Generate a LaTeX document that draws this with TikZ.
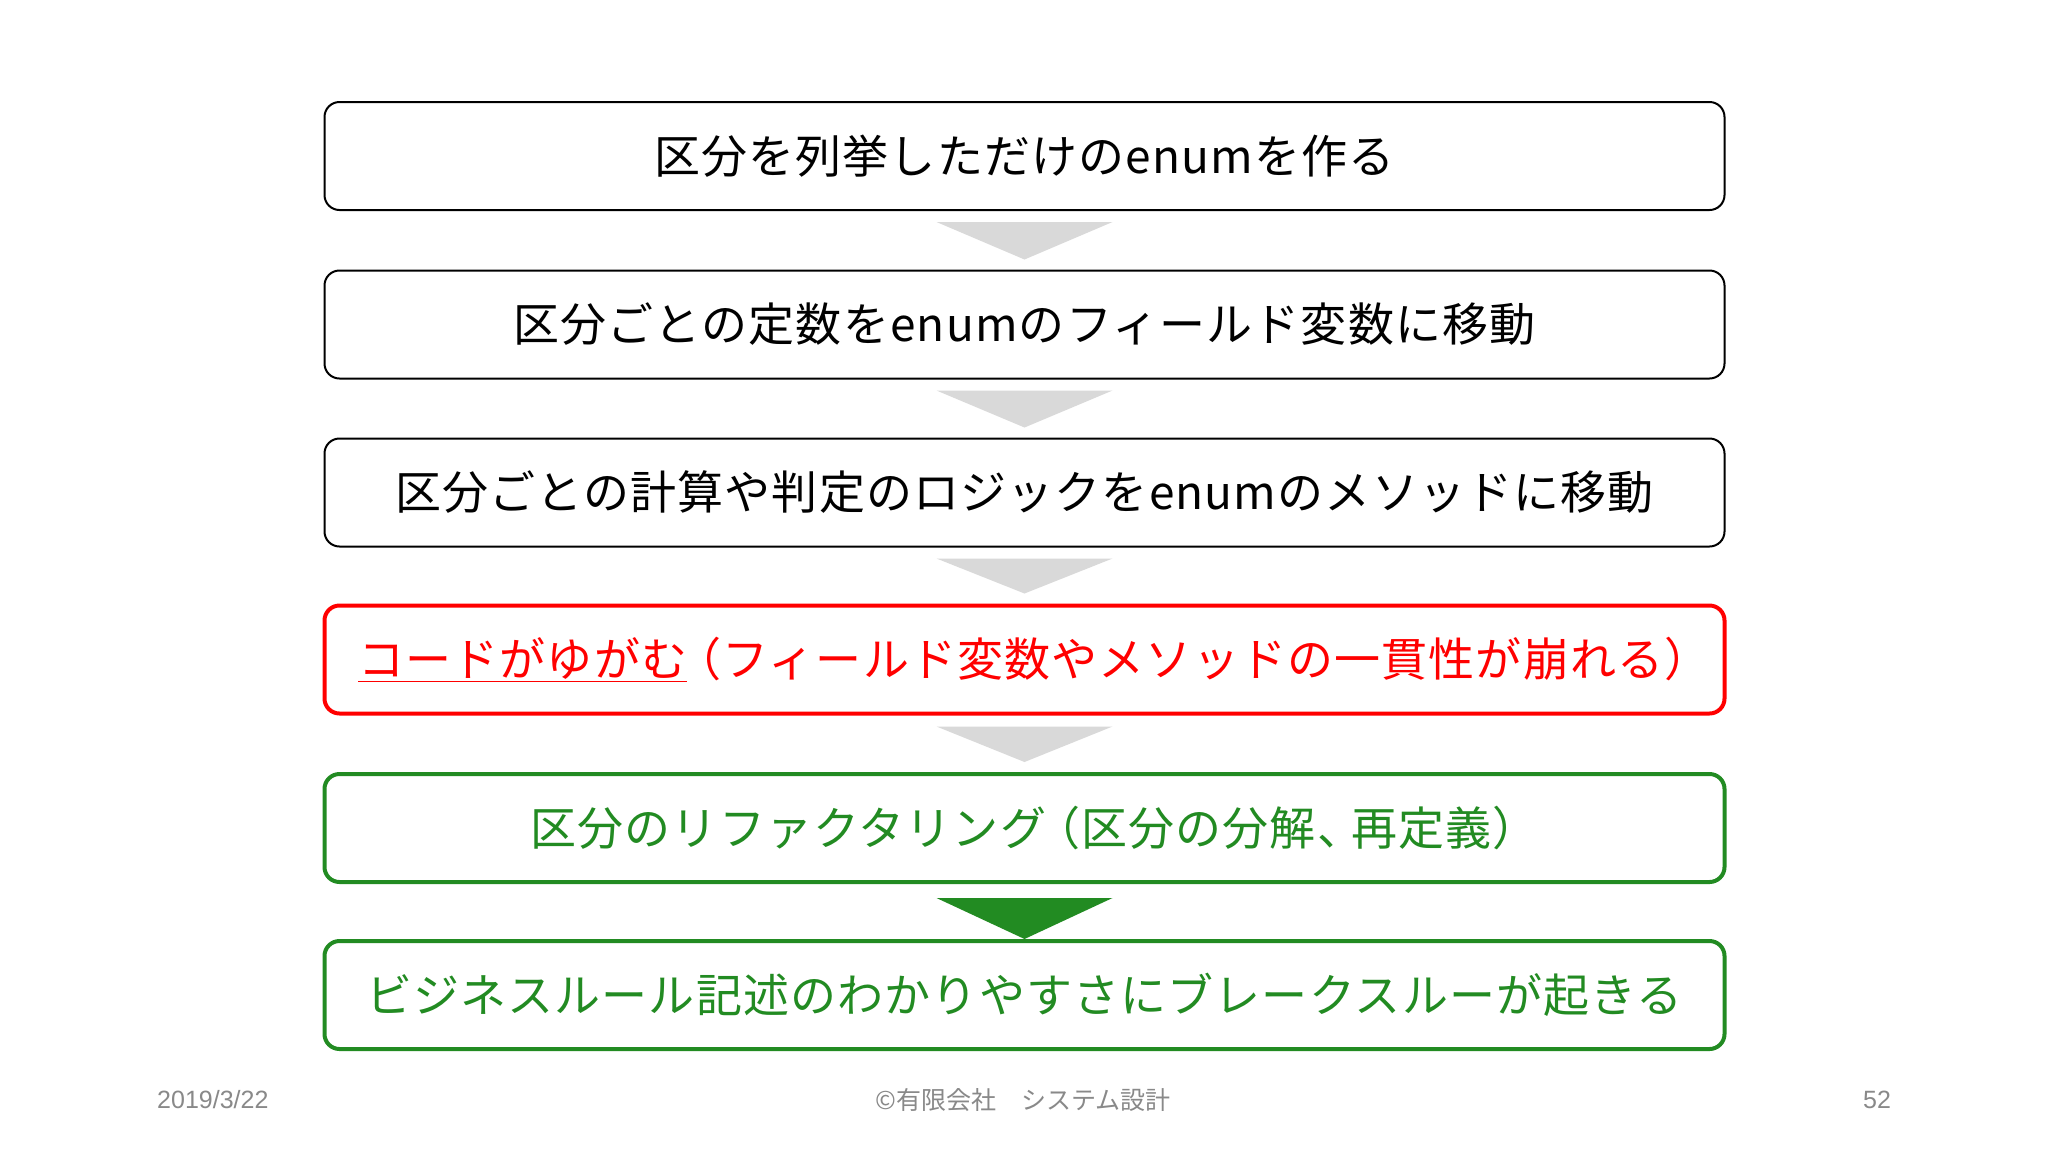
\documentclass[tikz,border=0pt]{standalone}
\usepackage{fontspec}
\setmainfont{Noto Sans CJK JP}
\newfontfamily\boxfont{Noto Sans CJK JP}[LetterSpace=2.5]
\newfontfamily\latfont{Liberation Sans}
\usetikzlibrary{calc}
\definecolor{myred}{RGB}{255,0,0}
\definecolor{mygreen}{RGB}{34,139,34}
\definecolor{arrowgray}{RGB}{217,217,217}
\definecolor{footgray}{RGB}{137,137,137}
\newcommand{\opar}{\kern-12pt（}
\newcommand{\cpar}{）\kern-20pt}
\tikzset{
  stepbox/.style={draw=black, line width=2pt, rounded corners=15pt,
    minimum width=1400pt, minimum height=108pt, inner sep=0pt, fill=white,
    font=\boxfont\fontsize{46}{54}\selectfont},
  redbox/.style={stepbox, draw=myred, line width=4pt, text=myred},
  greenbox/.style={stepbox, draw=mygreen, line width=4pt, text=mygreen},
  footer/.style={text=footgray, font=\fontsize{25}{30}\selectfont, inner sep=0pt},
  grayarrow/.style={fill=arrowgray},
  greenarrow/.style={fill=mygreen},
}
\begin{document}
\begin{tikzpicture}[x=1pt,y=-1pt]
\fill[white] (0,0) rectangle (2048,1152);
\useasboundingbox (0,0) rectangle (2048,1152);

\node[stepbox] (b1) at (1024.5,156) {区分を列挙しただけのenumを作る};
\node[stepbox] (b2) at (1024.5,324.5) {区分ごとの定数をenumのフィールド変数に移動};
\node[stepbox] (b3) at (1024.5,492.5) {区分ごとの計算や判定のロジックをenumのメソッドに移動};
\node[redbox] (b4) at (1024.5,659.5) {\underline{コードがゆがむ}\opar フィールド変数やメソッドの一貫性が崩れる\cpar};
\node[greenbox] (b5) at (1024.5,828) {区分のリファクタリング\opar 区分の分解、\kern-12pt 再定義\cpar};
\node[greenbox] (b6) at (1024.5,995) {ビジネスルール記述のわかりやすさにブレークスルーが起きる};

\fill[grayarrow] ($(b1.south)+(-88,11)$) -- ($(b1.south)+(88,11)$) -- ($(b2.north)+(0,-10)$) -- cycle;
\fill[grayarrow] ($(b2.south)+(-88,11)$) -- ($(b2.south)+(88,11)$) -- ($(b3.north)+(0,-10)$) -- cycle;
\fill[grayarrow] ($(b3.south)+(-88,11)$) -- ($(b3.south)+(88,11)$) -- ($(b4.north)+(0,-10)$) -- cycle;
\fill[grayarrow] ($(b4.south)+(-88,11)$) -- ($(b4.south)+(88,11)$) -- ($(b5.north)+(0,-10)$) -- cycle;
\fill[greenarrow] ($(b5.south)+(-88,14)$) -- ($(b5.south)+(88,14)$) -- ($(b6.north)+(0,0)$) -- cycle;

\node[footer, anchor=west] (date) at (157,1100) {\latfont 2019/3/22};
\node[footer] (copy) at (1023,1100) {©有限会社　システム設計};
\node[footer] (page) at (1877,1100) {\latfont 52};
\end{tikzpicture}
\end{document}
